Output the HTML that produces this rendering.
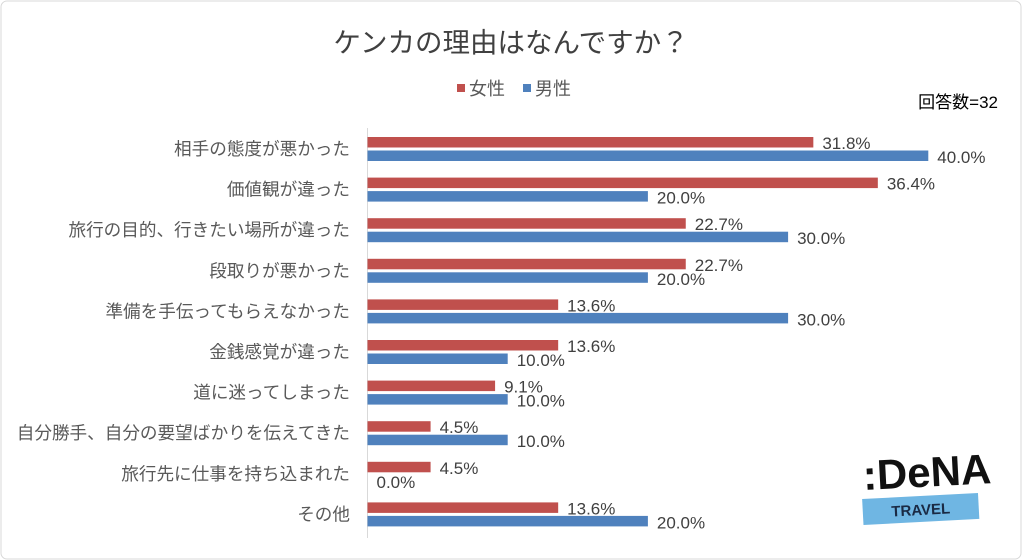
<!DOCTYPE html>
<html><head><meta charset="utf-8">
<style>
body{margin:0;background:#fff;}
#c{position:relative;width:1022px;height:560px;overflow:hidden;font-family:"Liberation Sans","Noto Sans CJK JP",sans-serif;}
</style></head>
<body>
<div id="c">
<svg width="1022" height="560" xmlns="http://www.w3.org/2000/svg" id="svg">
<rect x="1" y="1" width="1020" height="558" rx="6" fill="#fff" stroke="#d9d9d9"/>
<text x="511" y="52" text-anchor="middle" font-size="27.5" fill="#404040" font-family="Liberation Sans, Noto Sans CJK JP, sans-serif">ケンカの理由はなんですか？</text>
<g>
<rect x="457" y="84" width="8" height="8" fill="#C0504D"/>
<text x="469" y="95" font-size="18" fill="#595959" font-family="Liberation Sans, Noto Sans CJK JP, sans-serif">女性</text>
<rect x="523" y="84" width="8" height="8" fill="#4F81BD"/>
<text x="535" y="95" font-size="18" fill="#595959" font-family="Liberation Sans, Noto Sans CJK JP, sans-serif">男性</text>
</g>
<text x="998" y="108" text-anchor="end" font-size="17" fill="#000" font-family="Liberation Sans, Noto Sans CJK JP, sans-serif">回答数=32</text>
<line x1="367.5" y1="128" x2="367.5" y2="538" stroke="#d9d9d9"/>
<g id="bars"></g>
<g transform="rotate(-3 920 495)">
<text x="864" y="487" font-size="42" font-weight="bold" fill="#111" font-family="Liberation Sans, sans-serif">:DeNA</text>
<rect x="862" y="496" width="116" height="26" fill="#6fb6e3"/>
<text x="920" y="515" text-anchor="middle" font-size="15" font-weight="bold" fill="#1a2a44" font-family="Liberation Sans, sans-serif">TRAVEL</text>
</g>
</svg>
<script>
const categories=["相手の態度が悪かった","価値観が違った","旅行の目的、行きたい場所が違った","段取りが悪かった","準備を手伝ってもらえなかった","金銭感覚が違った","道に迷ってしまった","自分勝手、自分の要望ばかりを伝えてきた","旅行先に仕事を持ち込まれた","その他"];
const female=[31.8,36.4,22.7,22.7,13.6,13.6,9.1,4.5,4.5,13.6];
const male=[40.0,20.0,30.0,20.0,30.0,10.0,10.0,10.0,0.0,20.0];
const NS="http://www.w3.org/2000/svg";
const g=document.getElementById('bars');
const x0=367.5, pxPer=14.02;
const xs=v=>x0+v*pxPer;
const rowY=i=>137+i*40.6;
const F="Liberation Sans, Noto Sans CJK JP, sans-serif";
function mk(tag,attrs){const e=document.createElementNS(NS,tag);for(const k in attrs)e.setAttribute(k,attrs[k]);g.appendChild(e);return e;}
categories.forEach((c,i)=>{
  const y=rowY(i);
  const t=mk('text',{x:350,y:y+18,'text-anchor':'end','font-size':17.6,fill:'#595959','font-family':F});
  t.textContent=c;
  
  
  const r1=mk('rect',{x:x0,y:y,width:xs(female[i])-x0,height:10.5,fill:'#C0504D'});
  
  
  const r2=mk('rect',{x:x0,y:y+13.5,width:xs(male[i])-x0,height:10.5,fill:'#4F81BD'});
  
  
  const l1=mk('text',{x:xs(female[i])+9,y:y+12,'font-size':17,fill:'#404040','font-family':F});
  l1.textContent=female[i].toFixed(1)+'%';
  
  
  const l2=mk('text',{x:xs(male[i])+9,y:y+26,'font-size':17,fill:'#404040','font-family':F});
  l2.textContent=male[i].toFixed(1)+'%';
  
  
});
</script>
</div>
</body></html>
